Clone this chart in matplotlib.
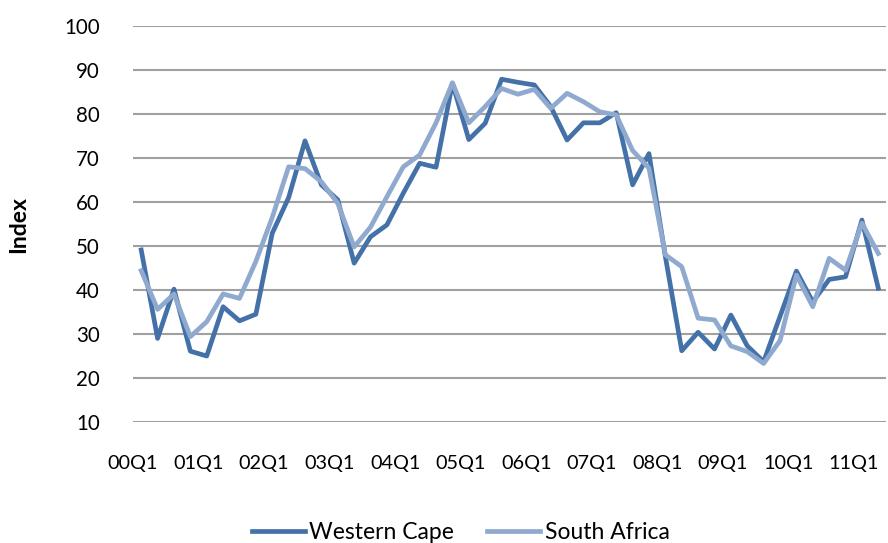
import matplotlib
matplotlib.use("Agg")
import matplotlib.pyplot as plt
import numpy as np

plt.rcParams['font.family'] = ['Lato', 'DejaVu Sans']

years = ["00", "01", "02", "03", "04", "05", "06", "07", "08", "09", "10", "11"]
quarters = [f"{y}Q{q}" for y in years for q in range(1, 5)][:46]
tick_labels = [f"{y}Q1" for y in years]

western_cape = [49.1, 29.0, 40.2, 26.1, 25.0, 36.2, 33.0, 34.5, 52.9, 61.0,
                73.9, 63.9, 60.5, 46.1, 52.1, 54.8, 62.0, 68.8, 67.9, 87.0,
                74.2, 77.9, 87.9, 87.2, 86.6, 81.7, 74.1, 78.0, 78.0, 80.3,
                63.9, 71.0, 47.6, 26.2, 30.4, 26.6, 34.3, 27.3, 23.7, 34.0,
                44.3, 37.3, 42.4, 43.0, 55.9, 40.4]
south_africa = [44.4, 35.6, 39.1, 29.4, 32.8, 39.1, 38.1, 46.5, 56.5, 68.0,
                67.6, 64.6, 59.7, 49.8, 54.3, 61.2, 68.0, 70.7, 78.0, 87.1,
                78.0, 81.7, 85.8, 84.5, 85.6, 81.3, 84.7, 82.8, 80.5, 79.8,
                71.7, 67.7, 48.0, 45.3, 33.6, 33.2, 27.3, 26.0, 23.3, 28.5,
                43.4, 36.2, 47.2, 44.5, 55.2, 48.3]

fig = plt.figure(figsize=(8.88, 5.43), dpi=100)
ax = fig.add_axes([0.1498, 0.2228, 0.8485, 0.7293])

x = np.arange(len(quarters))
l1, = ax.plot(x, western_cape, color="#4472A8", lw=3.4, label="Western Cape",
              solid_joinstyle="round", zorder=3)
l2, = ax.plot(x, south_africa, color="#8FA9CF", lw=3.4, label="South Africa",
              solid_joinstyle="round", zorder=4)

ax.set_xlim(-0.5, len(quarters) - 0.5)
ax.set_ylim(10, 100)
ax.set_yticks(np.arange(10, 101, 10))
ax.set_xticks(np.arange(0, len(quarters), 4) - 0.5)
ax.set_xticklabels(tick_labels)
ax.grid(axis="y", color="#A0A0A0", lw=1.5)
ax.set_axisbelow(True)
for s in ax.spines.values():
    s.set_visible(False)
ax.tick_params(axis="y", length=0, pad=24, labelsize=14.8)
ax.tick_params(axis="x", length=0, pad=24, labelsize=14.3)
ax.set_ylabel("Index", fontsize=16.5, fontweight="bold")
ax.yaxis.set_label_coords(-0.138, 0.5)

fig.legend(handles=[l1, l2], loc="center", bbox_to_anchor=(0.519, 0.02),
           ncol=2, frameon=False, fontsize=16.5, handlelength=2.3,
           handletextpad=0.2, columnspacing=1.45)

fig.savefig("out.png", dpi=100)
